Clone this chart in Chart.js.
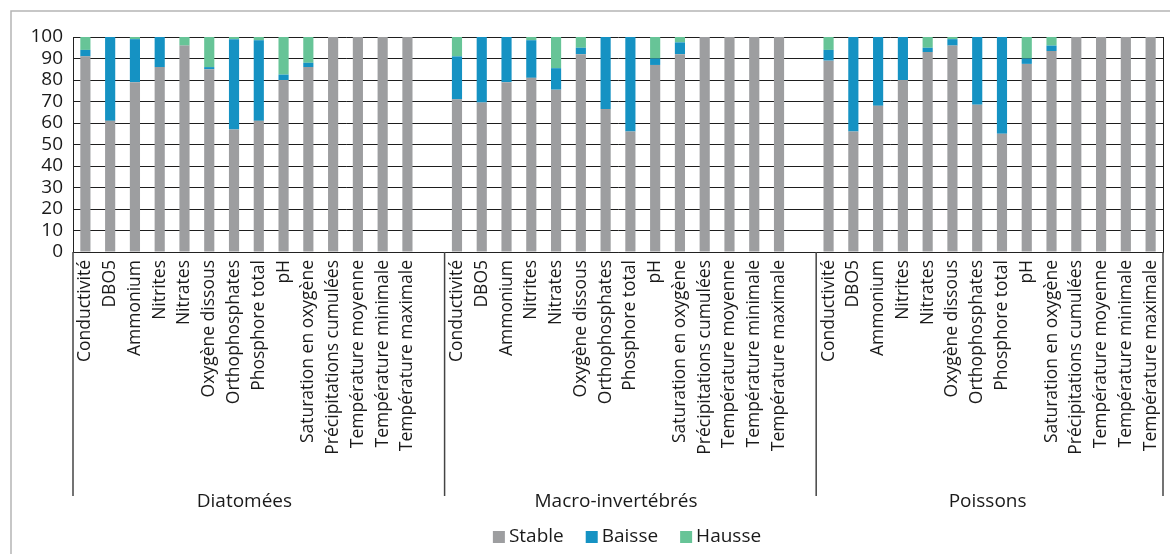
<!DOCTYPE html>
<html>
<head>
<meta charset="utf-8">
<script src="https://cdn.jsdelivr.net/npm/chart.js@4.4.1/dist/chart.umd.min.js"></script>
<style>
  html, body { margin: 0; padding: 0; background: #fff; }
  #wrap { position: relative; width: 1170px; height: 554px; }
</style>
</head>
<body>
<div id="wrap"><canvas id="chart" width="1170" height="554"></canvas></div>
<script>
// categories, repeated for each group
const categories = [
  "Conductivité", "DBO5", "Ammonium", "Nitrites", "Nitrates", "Oxygène dissous",
  "Orthophosphates", "Phosphore total", "pH", "Saturation en oxygène",
  "Précipitations cumulées", "Température moyenne", "Température minimale", "Température maximale"
];
const groups = ["Diatomées", "Macro-invertébrés", "Poissons"];
const yTicks = [0, 10, 20, 30, 40, 50, 60, 70, 80, 90, 100];

// Diatomées
const stableDiatomees = [91, 61, 79, 86, 96, 85, 57, 61, 80, 86, 100, 100, 100, 100];
const baisseDiatomees = [3, 39, 20, 14, 0, 1, 42, 37.5, 2.5, 2, 0, 0, 0, 0];
const hausseDiatomees = [6, 0, 1, 0, 4, 14, 1, 1.5, 17.5, 12, 0, 0, 0, 0];

// Macro-invertébrés
const stableMacro = [71, 69.5, 79, 81, 75.5, 92, 66.5, 56, 87, 92, 100, 100, 100, 100];
const baisseMacro = [20, 30.5, 21, 17.5, 10, 3, 33.5, 44, 3, 5.5, 0, 0, 0, 0];
const hausseMacro = [9, 0, 0, 1.5, 14.5, 5, 0, 0, 10, 2.5, 0, 0, 0, 0];

// Poissons
const stablePoissons = [89, 56, 68, 80, 93, 96, 68.5, 55, 87.5, 93.5, 100, 100, 100, 100];
const baissePoissons = [5, 44, 32, 20, 2, 3, 31.5, 45, 2.5, 2.5, 0, 0, 0, 0];
const haussePoissons = [6, 0, 0, 0, 5, 1, 0, 0, 10, 4, 0, 0, 0, 0];

const COLORS = { stable: "#9d9ea0", baisse: "#1592c3", hausse: "#67c497" };
const FONT = "'Open Sans', 'DejaVu Sans', sans-serif";

// one empty slot after the first two groups (as in the original sheet)
const labels = [...categories, "", ...categories, "", ...categories];
const joinGroups = (a, b, c) => [...a, null, ...b, null, ...c];

const stableData = joinGroups(stableDiatomees, stableMacro, stablePoissons);
const baisseData = joinGroups(baisseDiatomees, baisseMacro, baissePoissons);
const hausseData = joinGroups(hausseDiatomees, hausseMacro, haussePoissons);

// frame, plot border, group separators, group names, legend
const decorations = {
  id: "decorations",
  beforeDraw(chart) {
    const ctx = chart.ctx;
    ctx.save();
    ctx.strokeStyle = "#b5b5b5";
    ctx.lineWidth = 1.5;
    ctx.beginPath();
    ctx.moveTo(11, chart.height);
    ctx.lineTo(11, 11);
    ctx.lineTo(chart.width, 11);
    ctx.stroke();
    ctx.restore();
  },
  afterDraw(chart) {
    const ctx = chart.ctx;
    const area = chart.chartArea;
    const x = chart.scales.x;
    const n = categories.length;

    ctx.save();
    // right border of the plot
    ctx.strokeStyle = "#222";
    ctx.lineWidth = 1;
    ctx.beginPath();
    ctx.moveTo(Math.round(area.right) + 0.5, area.top);
    ctx.lineTo(Math.round(area.right) + 0.5, area.bottom);
    ctx.stroke();

    // separators between groups
    const half = (x.getPixelForValue(1) - x.getPixelForValue(0)) / 2;
    const bounds = [x.getPixelForValue(0) - half];
    for (let g = 0; g < groups.length; g++) {
      const last = g * (n + 1) + n - 1;
      bounds.push(g < groups.length - 1 ? x.getPixelForValue(last + 1) + half : area.right);
    }
    ctx.strokeStyle = "#444";
    ctx.lineWidth = 1.5;
    bounds.forEach(b => {
      ctx.beginPath();
      ctx.moveTo(b, area.bottom);
      ctx.lineTo(b, 496);
      ctx.stroke();
    });

    // group names
    ctx.fillStyle = "#1a1a1a";
    ctx.font = "19px " + FONT;
    ctx.textAlign = "center";
    ctx.textBaseline = "middle";
    groups.forEach((g, i) => {
      const first = x.getPixelForValue(i * (n + 1));
      const last = x.getPixelForValue(i * (n + 1) + n - 1);
      ctx.fillText(g, (first + last) / 2 - 2, 502);
    });

    // legend
    const items = chart.data.datasets.map(d => ({ text: d.label, color: d.backgroundColor }));
    const box = 12, gap = 4, spacing = 22;
    ctx.textAlign = "left";
    const widths = items.map(it => box + gap + ctx.measureText(it.text).width);
    const total = widths.reduce((s, w) => s + w, 0) + spacing * (items.length - 1);
    let lx = 627 - total / 2;
    const ly = 537;
    items.forEach((it, i) => {
      ctx.fillStyle = it.color;
      ctx.fillRect(lx, ly - box / 2, box, box);
      ctx.fillStyle = "#1a1a1a";
      ctx.fillText(it.text, lx + box + gap, ly);
      lx += widths[i] + spacing;
    });
    ctx.restore();
  }
};

new Chart(document.getElementById("chart"), {
  type: "bar",
  data: {
    labels,
    datasets: [
      { label: "Stable", data: stableData, backgroundColor: COLORS.stable },
      { label: "Baisse", data: baisseData, backgroundColor: COLORS.baisse },
      { label: "Hausse", data: hausseData, backgroundColor: COLORS.hausse }
    ]
  },
  options: {
    responsive: false,
    animation: false,
    layout: { padding: { left: 0, top: 37, right: 7, bottom: 0 } },
    datasets: { bar: { categoryPercentage: 1, barPercentage: 0.41 } },
    plugins: { legend: { display: false }, tooltip: { enabled: false } },
    scales: {
      x: {
        stacked: true,
        grid: { display: false, drawTicks: false },
        border: { color: "#222", width: 1 },
        ticks: {
          autoSkip: false, minRotation: 90, maxRotation: 90, padding: 8,
          color: "#1a1a1a", font: { family: FONT, size: 17.5 }
        },
        afterFit: scale => {
          scale.height = 302;
          scale.paddingLeft = 0;
          scale.paddingRight = 0;
        }
      },
      y: {
        stacked: true,
        min: 0, max: 100,
        afterBuildTicks: scale => { scale.ticks = yTicks.map(v => ({ value: v })); },
        grid: { color: "#1e1e1e", lineWidth: 1, drawTicks: false },
        border: { color: "#222", width: 1 },
        ticks: {
          autoSkip: false, padding: 10, color: "#1a1a1a",
          font: { family: FONT, size: 19 }
        },
        afterFit: scale => { scale.width = 73; }
      }
    }
  },
  plugins: [decorations]
});
</script>
</body>
</html>
